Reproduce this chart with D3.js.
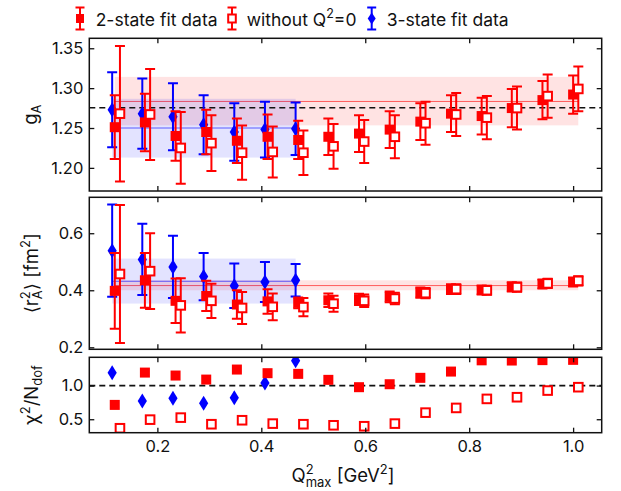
<!DOCTYPE html>
<html><head><meta charset="utf-8">
<script src="https://cdn.jsdelivr.net/npm/d3@7"></script>
<style>body{margin:0;background:#fff}svg{display:block}text{font-family:Inter,"DejaVu Sans",sans-serif;fill:#111;white-space:pre}</style>
</head><body><div id="chart"></div>
<script>
// ---------- data ----------
const x2 = [0.118,0.176,0.235,0.294,0.353,0.412,0.471,0.529,0.588,0.647,0.706,0.765,0.824,0.882,0.941,1.000];
const xOpen = [0.128,0.186,0.245,0.304,0.363,0.422,0.481,0.539,0.598,0.657,0.716,0.775,0.834,0.892,0.951,1.010];
const x3 = [0.113,0.171,0.230,0.289,0.348,0.407,0.466];

const gA2 = [1.251,1.257,1.240,1.245,1.234,1.239,1.235,1.239,1.243,1.248,1.258,1.268,1.265,1.275,1.285,1.292];
const gA2Err = [0.040,0.036,0.031,0.028,0.028,0.028,0.024,0.023,0.023,0.023,0.023,0.023,0.023,0.024,0.024,0.024];
const gAOpen = [1.268,1.267,1.225,1.231,1.219,1.220,1.219,1.227,1.233,1.239,1.256,1.267,1.263,1.275,1.290,1.299];
const gAOpenErr = [0.085,0.057,0.045,0.035,0.034,0.032,0.028,0.028,0.027,0.027,0.027,0.027,0.027,0.027,0.027,0.028];
const gA3 = [1.273,1.268,1.264,1.254,1.245,1.248,1.249];
const gA3Err = [0.047,0.044,0.042,0.037,0.036,0.035,0.033];

const r2 = [0.398,0.435,0.363,0.380,0.350,0.361,0.356,0.365,0.368,0.377,0.392,0.404,0.401,0.412,0.422,0.429];
const r2Err = [0.133,0.096,0.078,0.053,0.050,0.043,0.019,0.024,0.020,0.019,0.018,0.017,0.016,0.016,0.016,0.016];
const r2Open = [0.457,0.467,0.347,0.363,0.338,0.342,0.341,0.353,0.363,0.371,0.390,0.404,0.400,0.411,0.424,0.433];
const r2OpenErr = [0.242,0.133,0.095,0.060,0.056,0.047,0.032,0.028,0.022,0.020,0.018,0.017,0.016,0.016,0.016,0.016];
const r23 = [0.539,0.508,0.482,0.448,0.416,0.429,0.435];
const r23Err = [0.162,0.125,0.109,0.083,0.078,0.070,0.057];

const chi2 = [0.713,1.193,1.149,1.089,1.238,1.184,1.174,1.085,0.976,1.020,1.115,1.208,1.375,1.372,1.378,1.382];
const chiOpen = [0.366,0.494,0.524,0.426,0.485,0.435,0.426,0.410,0.396,0.435,0.598,0.668,0.802,0.827,0.926,0.976];
const chi3 = [1.189,0.772,0.812,0.738,0.821,1.040,1.370];

// fit bands: [center, low, high, xStart, xEnd]
const gABand2 = [1.2833,1.2533,1.3141,0.118,1.010];
const gABand3 = [1.250,1.2129,1.2866,0.113,0.466];
const r2Band2 = [0.4165,0.400,0.435,0.118,1.010];
const r2Band3 = [0.4316,0.3533,0.5112,0.113,0.466];
const gAExp = 1.2754;
const chiRef = 1.0;

const xTicks = [0.2,0.4,0.6,0.8,1.0];
const gATicks = [1.20,1.25,1.30,1.35];
const r2Ticks = [0.2,0.4,0.6];
const chiTicks = [0.5,1.0];
const legendLabels = ["2-state fit data","without Q","3-state fit data"];

// ---------- layout ----------
const W=621,H=491, L=89.3, R=601.7;
const RED="#ff0000", BLUE="#0000ff";
const TICKFS=16.5, FS=18.5, SS=13;
const svg = d3.select("#chart").append("svg").attr("width",W).attr("height",H);
const x = d3.scaleLinear().domain([0.069,1.055]).range([L,R]);
const panels = [
  {y:d3.scaleLinear().domain([1.171,1.3625]).range([191,38.3]), ticks:gATicks, fmt:d3.format(".2f")},
  {y:d3.scaleLinear().domain([0.193,0.726]).range([349.3,197.3]), ticks:r2Ticks, fmt:d3.format(".1f")},
  {y:d3.scaleLinear().domain([0.30,1.42]).range([432.7,357.3]), ticks:chiTicks, fmt:d3.format(".1f")}
];

function frame(p,i){
  const y=p.y, top=y.range()[1], bot=y.range()[0];
  const g=svg.append("g");
  const ax = (gen,tr)=>{
    const a=g.append("g").attr("transform",tr).call(gen);
    a.select(".domain").remove();
    a.selectAll(".tick line").attr("stroke","#111").attr("stroke-width",1.3);
    a.selectAll("text").attr("font-size",TICKFS).style("font-family","Inter,sans-serif").attr("fill","#111");
    return a;
  };
  ax(d3.axisBottom(x).tickValues(xTicks).tickSize(-5).tickPadding(8).tickFormat(i===2?d3.format(".1f"):""),`translate(0,${bot})`);
  ax(d3.axisTop(x).tickValues(xTicks).tickSize(-5).tickFormat(""),`translate(0,${top})`);
  ax(d3.axisLeft(y).tickValues(p.ticks).tickSize(-5).tickPadding(6).tickFormat(p.fmt),`translate(${L},0)`);
  ax(d3.axisRight(y).tickValues(p.ticks).tickSize(-5).tickFormat(""),`translate(${R},0)`);
  g.append("rect").attr("x",L).attr("y",top).attr("width",R-L).attr("height",bot-top)
   .attr("fill","none").attr("stroke","#111").attr("stroke-width",1.5);
}

function clipFor(p,i){
  const y=p.y, top=y.range()[1], bot=y.range()[0];
  svg.append("clipPath").attr("id","clip"+i).append("rect").attr("x",L).attr("y",top).attr("width",R-L).attr("height",bot-top);
  return svg.append("g").attr("clip-path",`url(#clip${i})`);
}

function band(g,y,b,color){
  g.append("rect").attr("x",x(b[3])).attr("width",x(b[4])-x(b[3]))
   .attr("y",y(b[2])).attr("height",y(b[1])-y(b[2])).attr("fill",color).attr("fill-opacity",0.11);
  g.append("line").attr("x1",x(b[3])).attr("x2",x(b[4])).attr("y1",y(b[0])).attr("y2",y(b[0]))
   .attr("stroke",color).attr("stroke-opacity",0.6).attr("stroke-width",1);
}

function errbars(g,y,xs,vs,es,color){
  const d=xs.map((xx,i)=>({x:xx,v:vs[i],e:es[i]}));
  const eg=g.append("g").attr("stroke",color).attr("stroke-width",2).attr("fill","none");
  eg.selectAll(".v").data(d).join("line").attr("x1",d=>x(d.x)).attr("x2",d=>x(d.x))
    .attr("y1",d=>y(d.v-d.e)).attr("y2",d=>y(d.v+d.e));
  eg.selectAll(".c1").data(d).join("line").attr("x1",d=>x(d.x)-5).attr("x2",d=>x(d.x)+5)
    .attr("y1",d=>y(d.v-d.e)).attr("y2",d=>y(d.v-d.e));
  eg.selectAll(".c2").data(d).join("line").attr("x1",d=>x(d.x)-5).attr("x2",d=>x(d.x)+5)
    .attr("y1",d=>y(d.v+d.e)).attr("y2",d=>y(d.v+d.e));
}
function markers(g,y,xs,vs,type){
  const d=xs.map((xx,i)=>({x:xx,v:vs[i]}));
  if(type==="filled"){
    g.selectAll(null).data(d).join("rect").attr("x",d=>x(d.x)-5).attr("y",d=>y(d.v)-5)
     .attr("width",10).attr("height",10).attr("fill",RED);
  } else if(type==="open"){
    g.selectAll(null).data(d).join("rect").attr("x",d=>x(d.x)-4.3).attr("y",d=>y(d.v)-4.3)
     .attr("width",8.6).attr("height",8.6).attr("fill","#fff").attr("stroke",RED).attr("stroke-width",2);
  } else {
    g.selectAll(null).data(d).join("path")
     .attr("d",d=>{const cx=x(d.x),cy=y(d.v);return `M${cx},${cy-7.5}L${cx+4.6},${cy}L${cx},${cy+7.5}L${cx-4.6},${cy}Z`;})
     .attr("fill",BLUE);
  }
}
function hline(g,y,v){
  g.append("line").attr("x1",L).attr("x2",R).attr("y1",y(v)).attr("y2",y(v))
   .attr("stroke","#111").attr("stroke-width",1.6).attr("stroke-dasharray","6,4");
}

// panel 0: gA
{ const p=panels[0], g=clipFor(p,0), y=p.y;
  band(g,y,gABand2,RED); band(g,y,gABand3,BLUE); hline(g,y,gAExp);
  errbars(g,y,x3,gA3,gA3Err,BLUE); markers(g,y,x3,gA3,"diamond");
  errbars(g,y,x2,gA2,gA2Err,RED); markers(g,y,x2,gA2,"filled");
  errbars(g,y,xOpen,gAOpen,gAOpenErr,RED); markers(g,y,xOpen,gAOpen,"open");
}
// panel 1: r2
{ const p=panels[1], g=clipFor(p,1), y=p.y;
  band(g,y,r2Band2,RED); band(g,y,r2Band3,BLUE);
  errbars(g,y,x3,r23,r23Err,BLUE); markers(g,y,x3,r23,"diamond");
  errbars(g,y,x2,r2,r2Err,RED); markers(g,y,x2,r2,"filled");
  errbars(g,y,xOpen,r2Open,r2OpenErr,RED); markers(g,y,xOpen,r2Open,"open");
}
// panel 2: chi2
{ const p=panels[2], g=clipFor(p,2), y=p.y;
  hline(g,y,chiRef);
  markers(g,y,x3,chi3,"diamond");
  markers(g,y,x2,chi2,"filled");
  markers(g,y,xOpen,chiOpen,"open");
}
panels.forEach(frame);

// rich text helper: one <text> element, tspans placed absolutely
function rich(g,parts,fs){
  const t=g.append("text").attr("font-size",fs);
  let cx=0,lastStart=0;
  parts.forEach(p=>{
    const px=p.stack?lastStart:cx;
    const s=t.append("tspan").attr("font-size",p.s||fs).attr("x",px).attr("y",p.dy||0).text(p.t);
    const w=s.node().getComputedTextLength();
    if(p.stack){cx=Math.max(cx,px+w);} else {lastStart=cx; cx=px+w;}
  });
  return cx;
}
function label(parts,fs,tx,ty,rot){
  const g=svg.append("g");
  const inner=g.append("g");
  const w=rich(inner,parts,fs);
  inner.attr("transform",`translate(${-w/2},0)`);
  g.attr("transform",`translate(${tx},${ty}) rotate(${rot})`);
}
label([{t:"g"},{t:"A",s:SS,dy:4}],FS,37,114.6,-90);
label([{t:"\u27E8r"},{t:"2",s:SS,dy:-8},{t:"A",s:SS,dy:4.5,stack:true},{t:"\u27E9 [fm"},{t:"2",s:SS,dy:-8},{t:"]"}],FS,37.5,273.3,-90);
label([{t:"\u03C7"},{t:"2",s:SS,dy:-8},{t:"/N"},{t:"dof",s:SS,dy:4.5}],FS,37.5,395,-90);
label([{t:"Q"},{t:"2",s:SS,dy:-8},{t:"max",s:SS,dy:5,stack:true},{t:"\u00A0[GeV"},{t:"2",s:SS,dy:-8},{t:"]"}],FS,343,482,0);

// legend
const ly=18.5, lb=25.5;
function legendItem(mx,tx,type,color,parts){
  const g=svg.append("g");
  g.append("line").attr("x1",mx).attr("x2",mx).attr("y1",ly-11).attr("y2",ly+11).attr("stroke",color).attr("stroke-width",2);
  [ly-11,ly+11].forEach(yy=>g.append("line").attr("x1",mx-4.5).attr("x2",mx+4.5).attr("y1",yy).attr("y2",yy).attr("stroke",color).attr("stroke-width",2));
  if(type==="filled") g.append("rect").attr("x",mx-4).attr("y",ly-4.5).attr("width",8).attr("height",9).attr("fill",RED);
  else if(type==="open") g.append("rect").attr("x",mx-3.8).attr("y",ly-4).attr("width",7.6).attr("height",8).attr("fill","#fff").attr("stroke",RED).attr("stroke-width",2);
  else g.append("path").attr("d",`M${mx},${ly-6}L${mx+4},${ly}L${mx},${ly+6}L${mx-4},${ly}Z`).attr("fill",BLUE);
  const tg=g.append("g").attr("transform",`translate(${tx},${lb})`);
  rich(tg,parts,17.5);
}
legendItem(80,95.7,"filled",RED,[{t:legendLabels[0]}]);
legendItem(232,246.7,"open",RED,[{t:legendLabels[1]},{t:"2",s:12.5,dy:-7.5},{t:"=0"}]);
legendItem(371.7,386.7,"diamond",BLUE,[{t:legendLabels[2]}]);
</script></body></html>
